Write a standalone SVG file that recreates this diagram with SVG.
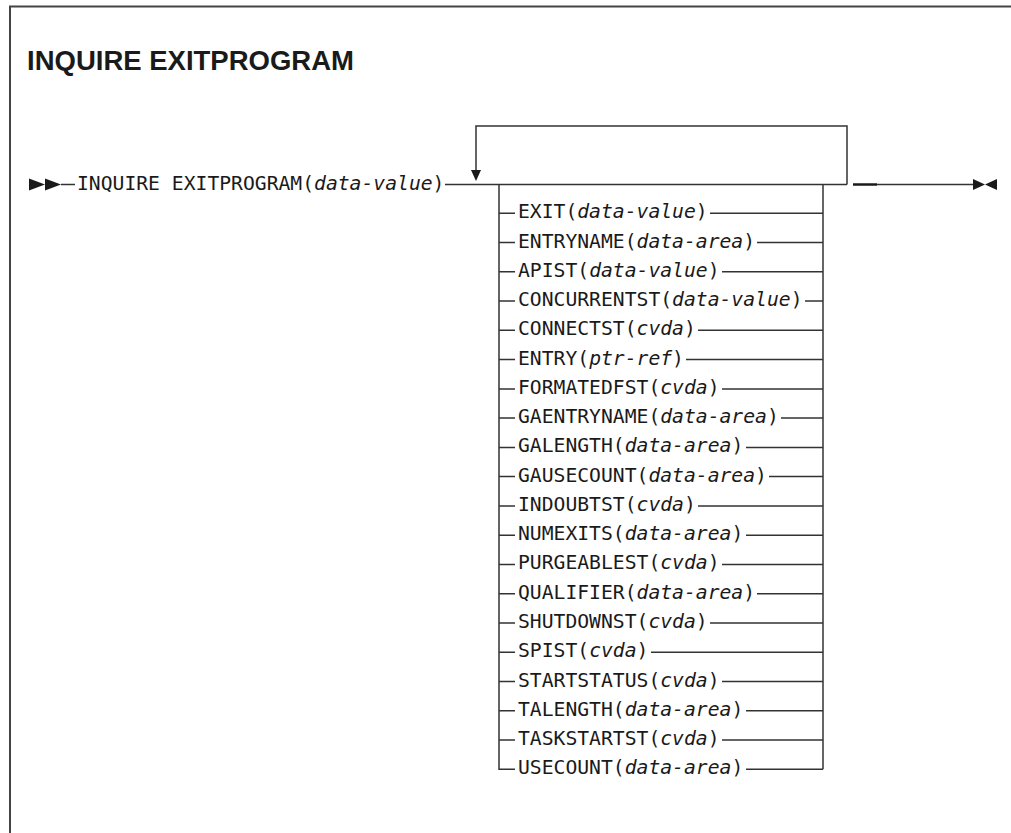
<svg xmlns="http://www.w3.org/2000/svg" width="1011" height="833" viewBox="0 0 1011 833">
<style>
.ln{stroke:#333;stroke-width:1.5;fill:none}
.fr{stroke:#444;stroke-width:2;fill:none}
.t{font-family:"DejaVu Sans Mono",monospace;font-size:19.7px;fill:#1a1a1a}
.v{font-style:italic}
.title{font-family:"Liberation Sans",Arial,sans-serif;font-weight:bold;font-size:27.5px;fill:#1a1a1a}
.ah{fill:#1a1a1a}
</style>
<rect width="1011" height="833" fill="#fff"/>
<g id="frame">
<path class="fr" d="M10 833 V6.5 H1011"/>
</g>
<text class="title" x="27" y="70">INQUIRE EXITPROGRAM</text>
<g id="connectors">
<polygon class="ah" points="29,178.5 45,184.5 29,190.5"/>
<polygon class="ah" points="45,178.5 61,184.5 45,190.5"/>
<path class="ln" d="M61 184.5 H75"/>
<path class="ln" d="M445 184.5 H847"/>
<path class="ln" d="M476 170 V126 H847 V184.5"/>
<polygon class="ah" points="471,170 481,170 476,181"/>
<path class="ln" d="M499 184.5 V769.2 H515"/>
<path class="ln" d="M823 184.5 V769.2"/>
<path stroke="#1a1a1a" stroke-width="2.5" d="M853 184.5 H877"/>
<path class="ln" d="M877 184.5 H973"/>
<polygon class="ah" points="973,179 985,184.5 973,190"/>
<polygon class="ah" points="997,179 985,184.5 997,190"/>
</g>
<g id="start">
<text class="t" x="77" y="189.5">INQUIRE EXITPROGRAM(<tspan class="v">data-value</tspan>)</text>
</g>
<g id="opt-exit"><path class="ln" d="M499 213.3 H515 M710 213.3 H823"/><text class="t" x="518" y="218.3">EXIT(<tspan class="v">data-value</tspan>)</text></g>
<g id="opt-entryname"><path class="ln" d="M499 242.6 H515 M757 242.6 H823"/><text class="t" x="518" y="247.6">ENTRYNAME(<tspan class="v">data-area</tspan>)</text></g>
<g id="opt-apist"><path class="ln" d="M499 271.8 H515 M722 271.8 H823"/><text class="t" x="518" y="276.8">APIST(<tspan class="v">data-value</tspan>)</text></g>
<g id="opt-concurrentst"><path class="ln" d="M499 301.1 H515 M805 301.1 H823"/><text class="t" x="518" y="306.1">CONCURRENTST(<tspan class="v">data-value</tspan>)</text></g>
<g id="opt-connectst"><path class="ln" d="M499 330.3 H515 M698 330.3 H823"/><text class="t" x="518" y="335.3">CONNECTST(<tspan class="v">cvda</tspan>)</text></g>
<g id="opt-entry"><path class="ln" d="M499 359.6 H515 M686 359.6 H823"/><text class="t" x="518" y="364.6">ENTRY(<tspan class="v">ptr-ref</tspan>)</text></g>
<g id="opt-formatedfst"><path class="ln" d="M499 388.9 H515 M722 388.9 H823"/><text class="t" x="518" y="393.9">FORMATEDFST(<tspan class="v">cvda</tspan>)</text></g>
<g id="opt-gaentryname"><path class="ln" d="M499 418.1 H515 M781 418.1 H823"/><text class="t" x="518" y="423.1">GAENTRYNAME(<tspan class="v">data-area</tspan>)</text></g>
<g id="opt-galength"><path class="ln" d="M499 447.4 H515 M746 447.4 H823"/><text class="t" x="518" y="452.4">GALENGTH(<tspan class="v">data-area</tspan>)</text></g>
<g id="opt-gausecount"><path class="ln" d="M499 476.6 H515 M769 476.6 H823"/><text class="t" x="518" y="481.6">GAUSECOUNT(<tspan class="v">data-area</tspan>)</text></g>
<g id="opt-indoubtst"><path class="ln" d="M499 505.9 H515 M698 505.9 H823"/><text class="t" x="518" y="510.9">INDOUBTST(<tspan class="v">cvda</tspan>)</text></g>
<g id="opt-numexits"><path class="ln" d="M499 535.2 H515 M746 535.2 H823"/><text class="t" x="518" y="540.2">NUMEXITS(<tspan class="v">data-area</tspan>)</text></g>
<g id="opt-purgeablest"><path class="ln" d="M499 564.4 H515 M722 564.4 H823"/><text class="t" x="518" y="569.4">PURGEABLEST(<tspan class="v">cvda</tspan>)</text></g>
<g id="opt-qualifier"><path class="ln" d="M499 593.7 H515 M757 593.7 H823"/><text class="t" x="518" y="598.7">QUALIFIER(<tspan class="v">data-area</tspan>)</text></g>
<g id="opt-shutdownst"><path class="ln" d="M499 622.9 H515 M710 622.9 H823"/><text class="t" x="518" y="627.9">SHUTDOWNST(<tspan class="v">cvda</tspan>)</text></g>
<g id="opt-spist"><path class="ln" d="M499 652.2 H515 M651 652.2 H823"/><text class="t" x="518" y="657.2">SPIST(<tspan class="v">cvda</tspan>)</text></g>
<g id="opt-startstatus"><path class="ln" d="M499 681.5 H515 M722 681.5 H823"/><text class="t" x="518" y="686.5">STARTSTATUS(<tspan class="v">cvda</tspan>)</text></g>
<g id="opt-talength"><path class="ln" d="M499 710.7 H515 M746 710.7 H823"/><text class="t" x="518" y="715.7">TALENGTH(<tspan class="v">data-area</tspan>)</text></g>
<g id="opt-taskstartst"><path class="ln" d="M499 740 H515 M722 740 H823"/><text class="t" x="518" y="745">TASKSTARTST(<tspan class="v">cvda</tspan>)</text></g>
<g id="opt-usecount"><path class="ln" d="M746 769.2 H823"/><text class="t" x="518" y="774.2">USECOUNT(<tspan class="v">data-area</tspan>)</text></g>
</svg>
